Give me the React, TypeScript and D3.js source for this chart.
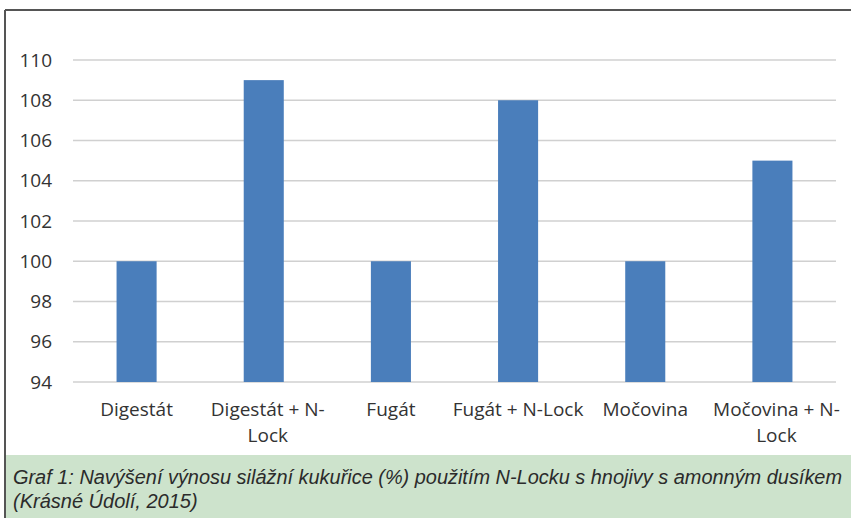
import React from "react";
import { scaleBand, scaleLinear } from "d3";

// values
const categories = [
  "Digestát",
  "Digestát + N-Lock",
  "Fugát",
  "Fugát + N-Lock",
  "Močovina",
  "Močovina + N-Lock",
];
const values = [100, 109, 100, 108, 100, 105];
const yTicks = [94, 96, 98, 100, 102, 104, 106, 108, 110];
// how Excel wrapped the axis labels
const labelLines = [
  ["Digestát"],
  ["Digestát + N-", "Lock"],
  ["Fugát"],
  ["Fugát + N-Lock"],
  ["Močovina"],
  ["Močovina + N-", "Lock"],
];
const captionLines = [
  "Graf 1: Navýšení výnosu silážní kukuřice (%) použitím N-Locku s hnojivy s amonným dusíkem",
  "(Krásné Údolí, 2015)",
];

const W = 851;
const H = 518;
const plot = { left: 73, right: 836, top: 60, bottom: 382 };

const App = () => {
  const x = scaleBand<string>()
    .domain(categories)
    .range([plot.left, plot.right])
    .paddingInner(0.685)
    .paddingOuter(0.3425);

  const y = scaleLinear().domain([94, 110]).range([plot.bottom, plot.top]);

  const font = "'Open Sans', sans-serif";

  return (
    <svg
      width={W}
      height={H}
      style={{ position: "absolute", left: 0, top: 0, background: "#fff" }}
    >
      {/* frame */}
      <line x1={5} x2={W} y1={10} y2={10} stroke="#555" strokeWidth={2} />
      <line x1={5} x2={5} y1={10} y2={H} stroke="#555" strokeWidth={2} />

      {/* gridlines */}
      {yTicks.map((t) => (
        <line
          key={t}
          x1={plot.left}
          x2={plot.right}
          y1={y(t)}
          y2={y(t)}
          stroke="#d0d0d0"
          strokeWidth={1.5}
        />
      ))}

      {/* y tick labels */}
      {yTicks.map((t) => (
        <text
          key={"l" + t}
          x={52}
          y={y(t)}
          dy="0.35em"
          textAnchor="end"
          fontFamily={font}
          fontSize={19}
          fill="#333"
        >
          {t}
        </text>
      ))}

      {/* bars */}
      {categories.map((c, i) => (
        <rect
          key={c}
          x={x(c)}
          y={y(values[i])}
          width={x.bandwidth()}
          height={y(94) - y(values[i])}
          fill="#4a7ebb"
        />
      ))}

      {/* x labels */}
      {categories.map((c, i) => (
        <text
          key={"x" + c}
          x={(x(c) ?? 0) + x.bandwidth() / 2 + (labelLines[i].length > 1 ? 4 : 0)}
          y={416}
          textAnchor="middle"
          fontFamily={font}
          fontSize={19}
          fill="#333"
        >
          {labelLines[i].map((ln, j) => (
            <tspan
              key={j}
              x={(x(c) ?? 0) + x.bandwidth() / 2 + (labelLines[i].length > 1 ? 4 : 0)}
              dy={j === 0 ? 0 : 26}
            >
              {ln}
            </tspan>
          ))}
        </text>
      ))}

      {/* caption */}
      <rect x={6} y={455} width={W - 6} height={H - 455} fill="#cde3cc" />
      {captionLines.map((ln, i) => (
        <text
          key={"c" + i}
          x={13}
          y={484 + i * 24}
          fontFamily="'Liberation Sans', Arial, sans-serif"
          fontStyle="italic"
          fontSize={20}
          fill="#2b2b2b"
          textLength={i === 0 ? 829 : undefined}
          lengthAdjust="spacingAndGlyphs"
        >
          {ln}
        </text>
      ))}
    </svg>
  );
};

export default App;
